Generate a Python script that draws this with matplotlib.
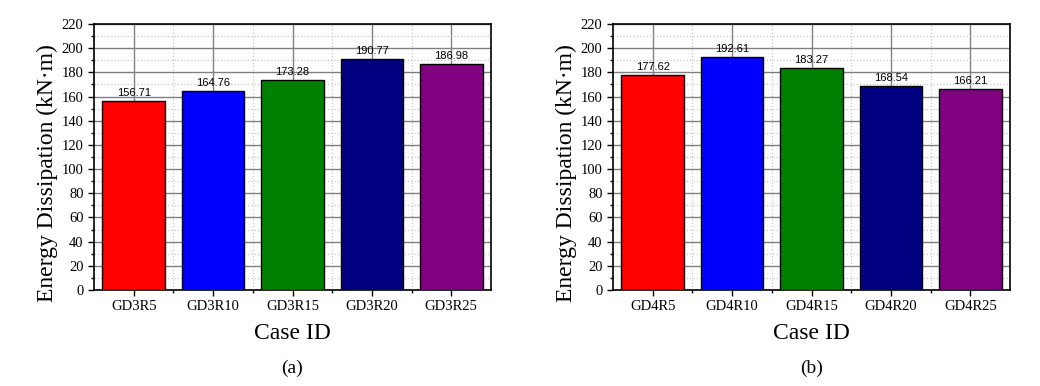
import matplotlib
matplotlib.use("Agg")
import matplotlib.pyplot as plt
from matplotlib.ticker import MultipleLocator, FixedLocator

cases_a = ["GD3R5", "GD3R10", "GD3R15", "GD3R20", "GD3R25"]
energy_a = [156.71, 164.76, 173.28, 190.77, 186.98]
cases_b = ["GD4R5", "GD4R10", "GD4R15", "GD4R20", "GD4R25"]
energy_b = [177.62, 192.61, 183.27, 168.54, 166.21]
bar_colors = ["#ff0000", "#0000ff", "#008000", "#000080", "#800080"]
panel_labels = ["(a)", "(b)"]

serif = "Liberation Serif"
sans = "Liberation Sans"

fig = plt.figure(figsize=(10.4, 3.86), dpi=100)
rects = [
    [94 / 1040, 1 - 290 / 386, 397 / 1040, 266 / 386],
    [613 / 1040, 1 - 290 / 386, 397 / 1040, 266 / 386],
]

for rect, cases, energy, tag in zip(rects, [cases_a, cases_b], [energy_a, energy_b], panel_labels):
    ax = fig.add_axes(rect)
    x = list(range(len(cases)))
    bars = ax.bar(x, energy, width=0.79, color=bar_colors, edgecolor="black", linewidth=1.0, zorder=3)
    for bar, value in zip(bars, energy):
        ax.text(bar.get_x() + bar.get_width() / 2, value + 2.5, f"{value:.2f}",
                ha="center", va="bottom", fontsize=8, family=sans, zorder=4)
    ax.set_xlim(-0.5, len(cases) - 0.5)
    ax.set_ylim(0, 220)
    ax.yaxis.set_major_locator(MultipleLocator(20))
    ax.yaxis.set_minor_locator(MultipleLocator(10))
    ax.set_xticks(x)
    ax.set_xticklabels(cases)
    ax.xaxis.set_minor_locator(FixedLocator([i + 0.5 for i in x[:-1]]))
    ax.grid(which="major", color="#808080", linewidth=1.0, linestyle="-", zorder=0)
    ax.grid(which="minor", color="#c0c0c0", linewidth=0.8, linestyle=(0, (1, 2)), zorder=0)
    ax.tick_params(which="both", direction="out", top=False, right=False, color="black")
    ax.tick_params(which="major", length=4, width=1, labelsize=10.5)
    ax.tick_params(which="minor", length=2.5, width=1)
    for label in ax.get_xticklabels() + ax.get_yticklabels():
        label.set_family(serif)
    for spine in ax.spines.values():
        spine.set_linewidth(1.2)
    ax.set_ylabel("Energy Dissipation (kN·m)", family=serif, fontsize=17, va="center")
    ax.yaxis.set_label_coords(-0.118, 0.44)
    ax.set_xlabel("Case ID", family=serif, fontsize=17, labelpad=7)
    fig.text(rect[0] + rect[2] / 2, 1 - 368 / 386, tag, ha="center", va="center",
             family=serif, fontsize=14)

fig.savefig("out.png", dpi=100)
